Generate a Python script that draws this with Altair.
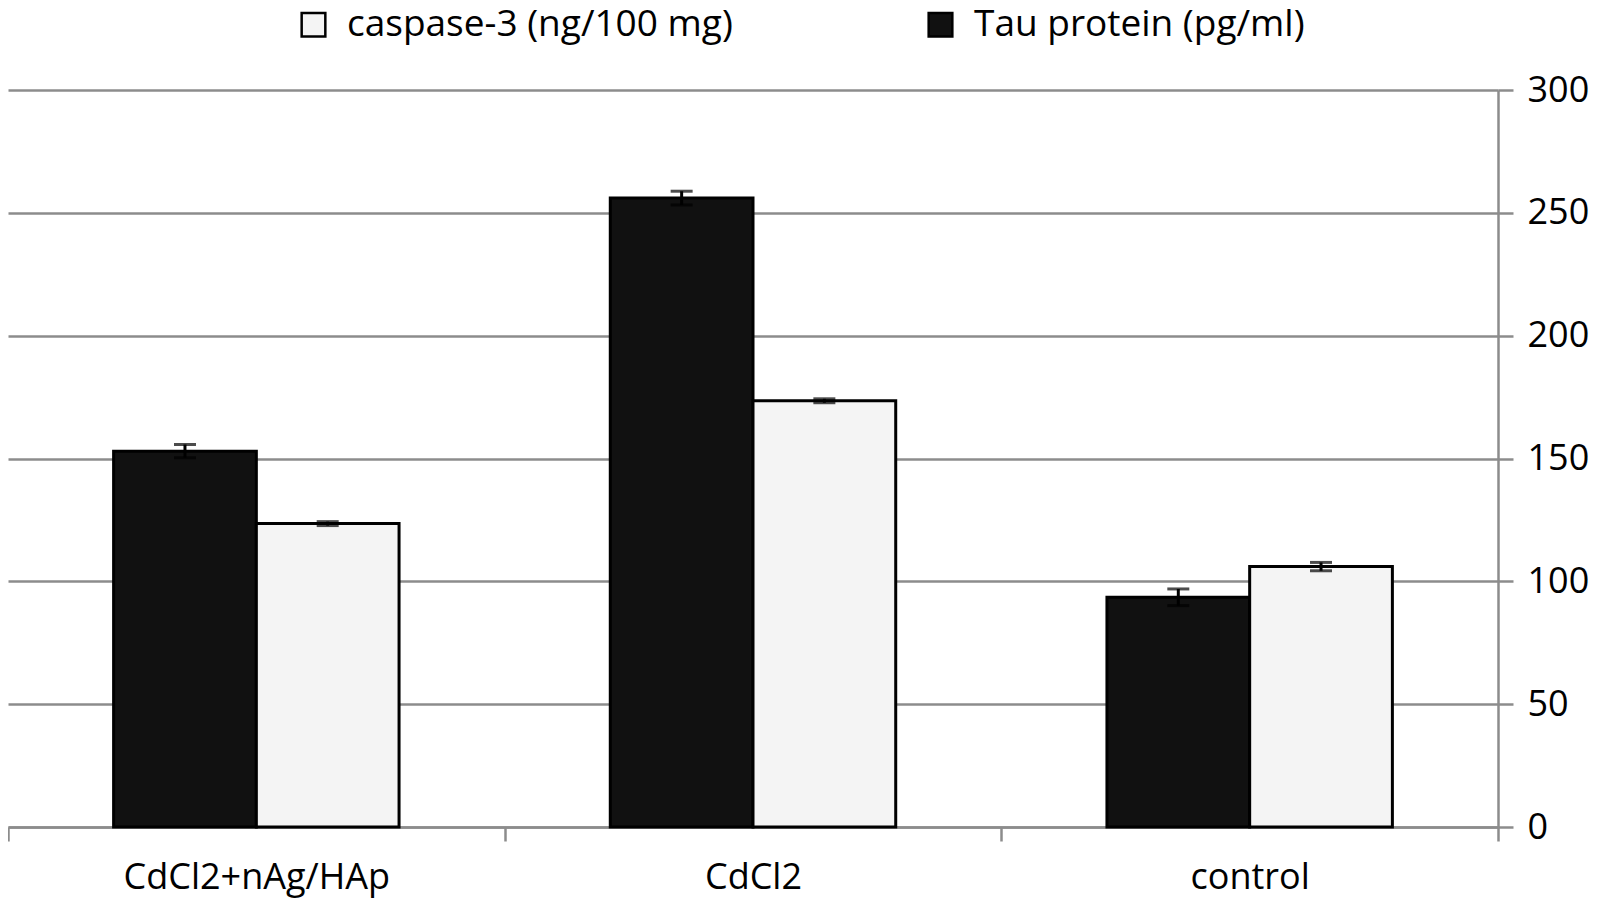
import altair as alt
import pandas as pd

categories = ["CdCl2+nAg/HAp", "CdCl2", "control"]
series = ["caspase-3 (ng/100 mg)", "Tau protein (pg/ml)"]
tau = [153.0, 256.0, 93.5]
tau_err = [2.7, 2.8, 3.4]
casp = [123.5, 173.5, 106.0]
casp_err = [0.8, 0.8, 1.7]

rows = []
for i, c in enumerate(categories):
    rows.append({"group": c, "series": series[1], "value": tau[i], "err": tau_err[i]})
    rows.append({"group": c, "series": series[0], "value": casp[i], "err": casp_err[i]})
df = pd.DataFrame(rows)
df["lo"] = df["value"] - df["err"]
df["hi"] = df["value"] + df["err"]

FONT = "Open Sans"
GRAY = "#8c8c8c"

x_axis = alt.Axis(orient="bottom", labelAngle=0, tickBand="extent", grid=False,
                  labelFontSize=36, labelFont=FONT, labelColor="black", labelLimit=600,
                  labelPadding=19, tickSize=14, tickColor=GRAY, tickWidth=2.5,
                  domainColor=GRAY, domainWidth=2.5)
y_axis = alt.Axis(orient="right", values=[0, 50, 100, 150, 200, 250, 300],
                  labelFontSize=36, labelFont=FONT, labelColor="black", labelLimit=600,
                  labelPadding=14, tickSize=15, tickColor=GRAY, tickWidth=2.5,
                  domainColor=GRAY, domainWidth=2.5,
                  gridColor=GRAY, gridWidth=2.5)
y_scale = alt.Scale(domain=[0, 300])

x = alt.X("group:N", sort=categories, title=None,
          scale=alt.Scale(paddingInner=0, paddingOuter=0), axis=x_axis)
xo = alt.XOffset("series:N", sort=[series[1], series[0]],
                 scale=alt.Scale(paddingOuter=0.74, paddingInner=0))

color = alt.Color("series:N",
                  scale=alt.Scale(domain=series, range=["#f4f4f4", "#111111"]),
                  legend=alt.Legend(title=None, orient="none", direction="horizontal",
                                    legendX=287, legendY=-84, padding=0,
                                    symbolType="square", symbolSize=560,
                                    symbolStrokeColor="black", symbolStrokeWidth=2.5,
                                    labelFontSize=37, labelFont=FONT, labelColor="black",
                                    labelLimit=600, labelOffset=15, columnPadding=189,
                                    symbolOpacity=1))

base = alt.Chart(df)
bars = base.mark_bar(stroke="black", strokeWidth=3, opacity=1).encode(
    x=x, xOffset=xo,
    y=alt.Y("value:Q", title=None, scale=y_scale, axis=y_axis),
    color=color)
rules = base.mark_rule(color="black", strokeWidth=3).encode(
    x=x, xOffset=xo,
    y=alt.Y("lo:Q", title=None, scale=y_scale, axis=y_axis), y2="hi:Q")
caps = base.mark_tick(color="black", thickness=3, size=22, orient="horizontal").encode(
    x=x, xOffset=xo, y=alt.Y("hi:Q", title=None, scale=y_scale, axis=y_axis))
caps_lo = base.mark_tick(color="black", thickness=3, size=22, orient="horizontal").encode(
    x=x, xOffset=xo, y=alt.Y("lo:Q", title=None, scale=y_scale, axis=y_axis))

chart = alt.layer(bars, rules, caps, caps_lo).properties(
    width=1490, height=737,
    background="white",
    autosize=alt.AutoSizeParams(type="none"),
    padding={"left": 0, "top": 82, "right": 92, "bottom": 74},
).configure_view(stroke="transparent", strokeWidth=0)

chart.save("out.html", embed_options={"renderer": "svg", "actions": False})
